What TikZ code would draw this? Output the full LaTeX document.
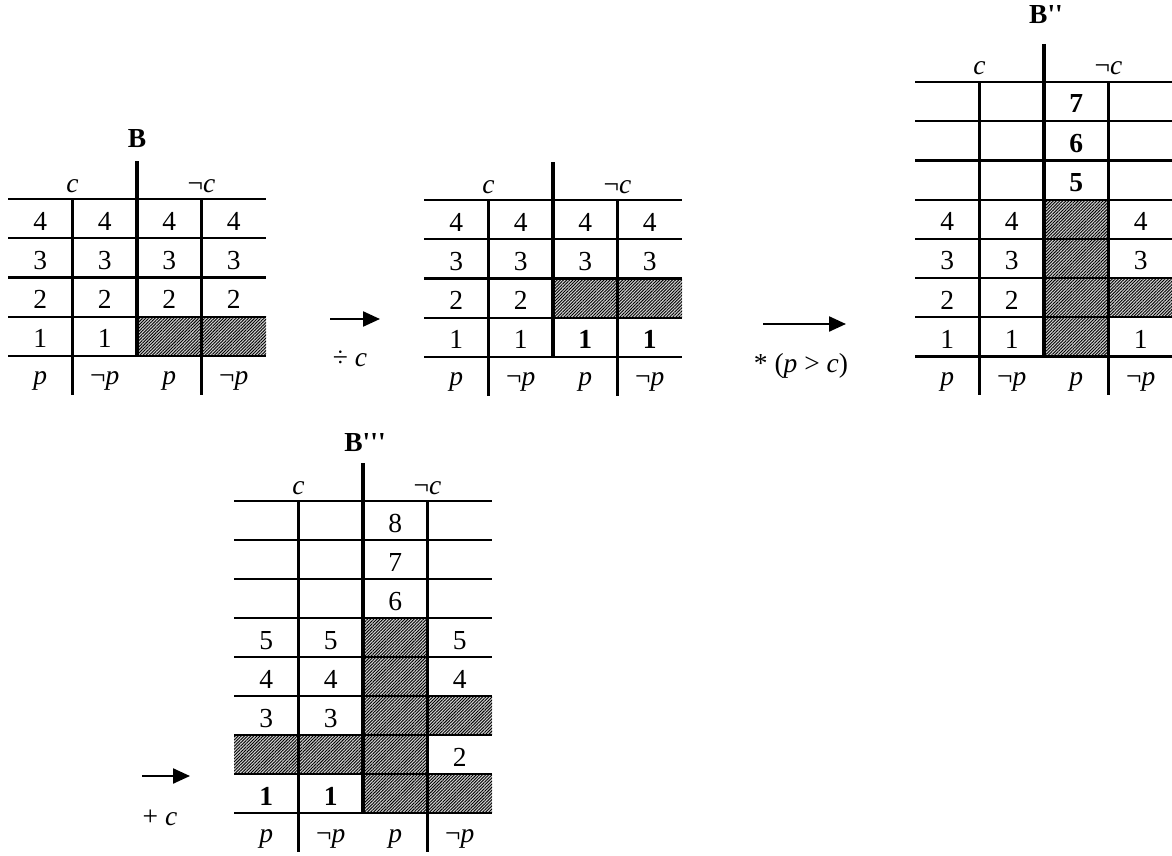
\documentclass[tikz,border=0pt]{standalone}
\usepackage{fontspec}
\setmainfont{Liberation Serif}
\usetikzlibrary{arrows.meta,patterns.meta}
\newcommand\fsz{\fontsize{27.5}{32}\selectfont}
\tikzset{
 thinln/.style={line width=2.2pt},
 vthin/.style={line width=2.5pt},
 thickln/.style={line width=4.6pt},
 hatchcell/.style={fill=gray!35, postaction={pattern={Lines[angle=45,distance=2.2pt,line width=0.9pt]}, pattern color=black}},
 num/.style={anchor=base, inner sep=0pt, font=\fsz},
 ttl/.style={anchor=center, inner sep=0pt, font=\fsz\bfseries},
 arr/.style={line width=2.3pt, -{Triangle[length=17pt,width=15pt]}},
 lbl/.style={anchor=base, inner sep=0pt, font=\fsz},
}
\newcommand\putnum[4]{\node[num] (#1) at ({(#2-0.5)*64.5},{(#3-1)*\rowh+31}) {#4};}
\newcommand\puthatch[2]{\path[hatchcell] ({(#1-1)*64.5},{(#2-1)*\rowh}) rectangle ({#1*64.5},{#2*\rowh});}
\newcommand\tframe[2]{%
  \foreach \r in {0,...,#2} \draw[thinln] (0,{\r*\rowh}) -- (258,{\r*\rowh});
  \draw[vthin] (64.5,0) -- (64.5,{#2*\rowh+39});
  \draw[vthin] (193.5,0) -- (193.5,{#2*\rowh+39});
  \draw[thickln] (129,-38) -- (129,{#2*\rowh});
  \node[num] (#1c) at (64.5,-7) {\textit{c}};
  \node[num] (#1nc) at (193.5,-7) {¬\textit{c}};
  \node[num] (#1pa) at (32.25,{#2*\rowh+29}) {\textit{p}};
  \node[num] (#1pb) at (96.75,{#2*\rowh+29}) {¬\textit{p}};
  \node[num] (#1pc) at (161.25,{#2*\rowh+29}) {\textit{p}};
  \node[num] (#1pd) at (225.75,{#2*\rowh+29}) {¬\textit{p}};
}
\begin{document}
\begin{tikzpicture}[x=1pt,y=-1pt]
\useasboundingbox (0,0) rectangle (1172,856);

% ---- Table B
\begin{scope}[shift={(8,199)}]
\def\rowh{39.2}
\puthatch{3}{4}\puthatch{4}{4}
\tframe{B}{4}
\node[ttl] (Bt) at (129,-60) {B};
\putnum{B11}{1}{1}{4}\putnum{B12}{2}{1}{4}\putnum{B13}{3}{1}{4}\putnum{B14}{4}{1}{4}
\putnum{B21}{1}{2}{3}\putnum{B22}{2}{2}{3}\putnum{B23}{3}{2}{3}\putnum{B24}{4}{2}{3}
\putnum{B31}{1}{3}{2}\putnum{B32}{2}{3}{2}\putnum{B33}{3}{3}{2}\putnum{B34}{4}{3}{2}
\putnum{B41}{1}{4}{1}\putnum{B42}{2}{4}{1}
\end{scope}

% ---- Table 2
\begin{scope}[shift={(424,200)}]
\def\rowh{39.2}
\puthatch{3}{3}\puthatch{4}{3}
\tframe{T}{4}
\putnum{T11}{1}{1}{4}\putnum{T12}{2}{1}{4}\putnum{T13}{3}{1}{4}\putnum{T14}{4}{1}{4}
\putnum{T21}{1}{2}{3}\putnum{T22}{2}{2}{3}\putnum{T23}{3}{2}{3}\putnum{T24}{4}{2}{3}
\putnum{T31}{1}{3}{2}\putnum{T32}{2}{3}{2}
\putnum{T41}{1}{4}{1}\putnum{T42}{2}{4}{1}\putnum{T43}{3}{4}{\textbf{1}}\putnum{T44}{4}{4}{\textbf{1}}
\end{scope}

% ---- Table B''
\begin{scope}[shift={(915,82)}]
\def\rowh{39.2}
\puthatch{3}{4}\puthatch{3}{5}\puthatch{3}{6}\puthatch{4}{6}\puthatch{3}{7}
\tframe{D}{7}
\node[ttl] (Dt) at (131,-67) {B\textquotesingle\textquotesingle};
\putnum{D13}{3}{1}{\textbf{7}}
\putnum{D23}{3}{2}{\textbf{6}}
\putnum{D33}{3}{3}{\textbf{5}}
\putnum{D41}{1}{4}{4}\putnum{D42}{2}{4}{4}\putnum{D44}{4}{4}{4}
\putnum{D51}{1}{5}{3}\putnum{D52}{2}{5}{3}\putnum{D54}{4}{5}{3}
\putnum{D61}{1}{6}{2}\putnum{D62}{2}{6}{2}
\putnum{D71}{1}{7}{1}\putnum{D72}{2}{7}{1}\putnum{D74}{4}{7}{1}
\end{scope}

% ---- Table B'''
\begin{scope}[shift={(234,501)}]
\def\rowh{39}
\puthatch{3}{4}\puthatch{3}{5}\puthatch{3}{6}\puthatch{4}{6}
\puthatch{1}{7}\puthatch{2}{7}\puthatch{3}{7}\puthatch{3}{8}\puthatch{4}{8}
\tframe{E}{8}
\node[ttl] (Et) at (131,-58) {B\textquotesingle\textquotesingle\textquotesingle};
\putnum{E13}{3}{1}{8}
\putnum{E23}{3}{2}{7}
\putnum{E33}{3}{3}{6}
\putnum{E41}{1}{4}{5}\putnum{E42}{2}{4}{5}\putnum{E44}{4}{4}{5}
\putnum{E51}{1}{5}{4}\putnum{E52}{2}{5}{4}\putnum{E54}{4}{5}{4}
\putnum{E61}{1}{6}{3}\putnum{E62}{2}{6}{3}
\putnum{E74}{4}{7}{2}
\putnum{E81}{1}{8}{\textbf{1}}\putnum{E82}{2}{8}{\textbf{1}}
\end{scope}

% ---- arrows
\coordinate (a1s) at (330,319); \coordinate (a1e) at (380,319);
\draw[arr] (a1s) -- (a1e);
\node[lbl] (l1) at (350,366) {÷ \textit{c}};
\coordinate (a2s) at (763,324); \coordinate (a2e) at (846,324);
\draw[arr] (a2s) -- (a2e);
\node[lbl] (l2) at (801,372) {* (\textit{p} > \textit{c})};
\coordinate (a3s) at (142,776); \coordinate (a3e) at (190,776);
\draw[arr] (a3s) -- (a3e);
\node[lbl] (l3) at (160,825) {+ \textit{c}};
\end{tikzpicture}
\end{document}
